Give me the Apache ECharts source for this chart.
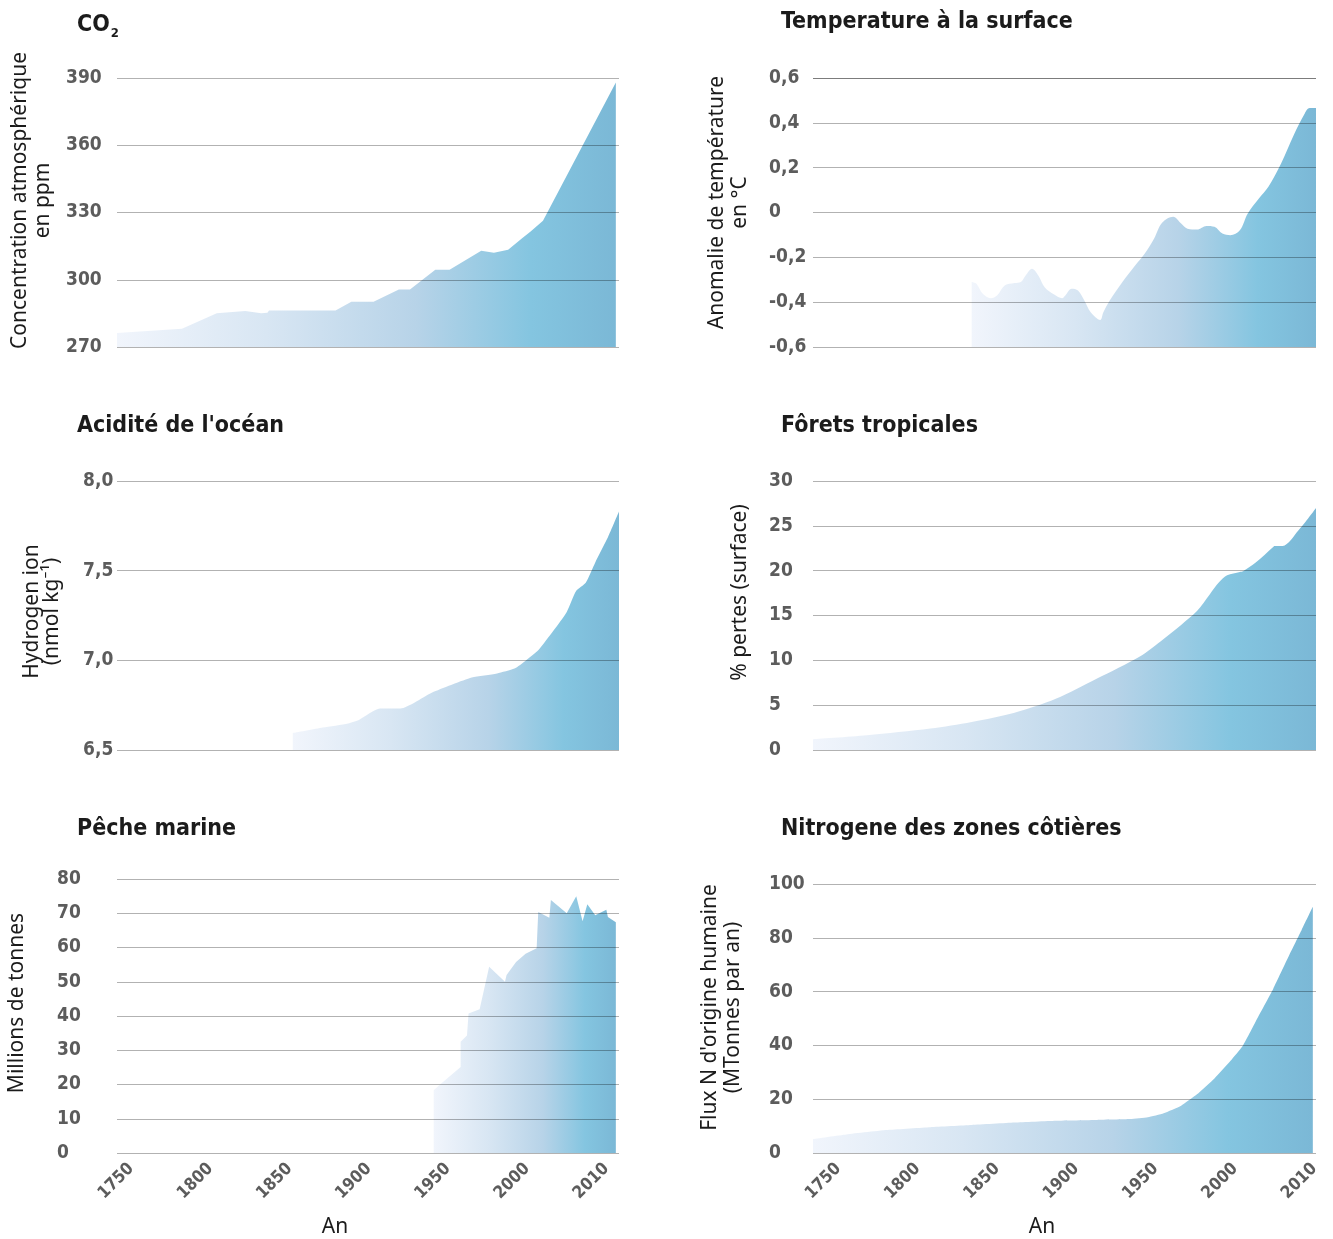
<!DOCTYPE html>
<html>
<head>
<meta charset="utf-8">
<title>Grande accélération</title>
<script src="https://cdn.jsdelivr.net/npm/echarts@6/dist/echarts.min.js"></script>
<style>
  html, body { margin: 0; padding: 0; background: #ffffff; }
  #chart { width: 1333px; height: 1239px; }
</style>
</head>
<body>
<div id="chart"></div>
<script>
// Time axis: ticks every 50 years, the last tick carries the "2010" label.
const xTickValues = [1750, 1800, 1850, 1900, 1950, 2000, 2050];
const xTickLabels = ['1750', '1800', '1850', '1900', '1950', '2000', '2010'];

// CO2 (ppm)
const co2Years  = [1741, 1782, 1804, 1822, 1832, 1836, 1837, 1879, 1889, 1903, 1919, 1926, 1942, 1951, 1971, 1979, 1988, 1997, 2002, 2010, 2056];
const co2Values = [276.2, 278.1, 285.1, 286.1, 285.1, 285.3, 286.3, 286.3, 290.2, 290.2, 295.7, 295.7, 304.5, 304.5, 312.9, 312.1, 313.4, 318.6, 321.4, 326.3, 388];
const co2Ticks  = [270, 300, 330, 360, 390];

// Surface temperature anomaly (°C)
const tempYears  = [1834, 1837, 1841, 1846, 1850, 1855, 1861, 1865, 1868, 1872, 1876, 1880, 1886, 1891, 1893, 1897, 1901, 1905, 1909, 1915, 1917, 1921, 1929, 1937, 1943, 1949, 1954, 1961, 1966, 1970, 1976, 1982, 1987, 1992, 1997, 2003, 2008, 2015, 2021, 2029, 2037, 2044, 2047, 2051];
const tempValues = [-0.31, -0.318, -0.363, -0.382, -0.37, -0.325, -0.315, -0.31, -0.281, -0.251, -0.281, -0.333, -0.366, -0.382, -0.37, -0.34, -0.348, -0.393, -0.445, -0.479, -0.445, -0.393, -0.31, -0.236, -0.184, -0.116, -0.046, -0.019, -0.049, -0.072, -0.076, -0.06, -0.064, -0.094, -0.101, -0.079, -0.004, 0.063, 0.115, 0.219, 0.346, 0.443, 0.466, 0.466];
const tempTicks  = [-0.6, -0.4, -0.2, 0, 0.2, 0.4, 0.6];

// Ocean acidity: hydrogen ion (nmol kg-1)
const acidYears  = [1852, 1871, 1887, 1894, 1907, 1920, 1940, 1965, 1981, 1992, 1999, 2007, 2017, 2025, 2031, 2037, 2043, 2051, 2058];
const acidValues = [6.594, 6.625, 6.648, 6.669, 6.731, 6.731, 6.82, 6.904, 6.927, 6.954, 6.998, 7.056, 7.17, 7.27, 7.388, 7.433, 7.546, 7.686, 7.83];
const acidTicks  = [6.5, 7.0, 7.5, 8.0];

// Tropical forest loss (% of area)
const forestYears  = [1734, 1768, 1808, 1834, 1861, 1887, 1913, 1940, 1953, 1966, 1976, 1984, 1990, 1995, 2003, 2005, 2013, 2024, 2025, 2030, 2040, 2051];
const forestValues = [1.21, 1.65, 2.39, 3.12, 4.15, 5.71, 7.97, 10.43, 12.11, 13.95, 15.49, 17.35, 18.73, 19.48, 19.85, 19.93, 20.9, 22.65, 22.76, 22.76, 24.5, 27.0];
const forestTicks  = [0, 5, 10, 15, 20, 25, 30];

// Marine fish capture (million tonnes)
const fishYears  = [1941, 1945, 1958, 1958, 1962, 1963, 1970, 1976, 1986, 1987, 1993, 1999, 2006, 2007, 2014, 2015, 2025, 2031, 2035, 2038, 2043, 2050, 2051, 2056];
const fishValues = [18.3, 20, 25.1, 32.5, 34.3, 40.7, 42.0, 54.4, 50, 52, 55.8, 58.2, 59.8, 70.4, 68.7, 73.9, 70, 75.0, 67.7, 72.6, 69.4, 71.0, 68.9, 67.4];
const fishTicks  = [0, 10, 20, 30, 40, 50, 60, 70, 80];

// Coastal nitrogen flux of human origin (Mt per year)
const nitroYears  = [1734, 1755, 1782, 1808, 1834, 1861, 1887, 1913, 1934, 1945, 1955, 1966, 1976, 1987, 1997, 2005, 2013, 2024, 2034, 2042, 2049];
const nitroValues = [5.2, 6.9, 8.6, 9.6, 10.4, 11.3, 12.0, 12.3, 12.6, 13.3, 14.8, 17.6, 21.8, 27.7, 34.2, 40, 48.9, 61.0, 73.4, 83.0, 91.5];
const nitroTicks  = [0, 20, 40, 60, 80, 100];

const FONT_COND = "'DejaVu Sans Condensed', 'Liberation Sans Narrow', sans-serif";
const FONT_TEXT = "'Noto Sans', 'Open Sans', sans-serif";

const comma = v => String(Math.round(v * 10) / 10).replace('.', ',');
const oneDecimal = v => v.toFixed(1).replace('.', ',');

const areaFill = {
  type: 'linear', x: 0, y: 0, x2: 1, y2: 0,
  colorStops: [
    { offset: 0.00, color: '#f1f5fc' },
    { offset: 0.30, color: '#d8e6f3' },
    { offset: 0.60, color: '#b7d3e8' },
    { offset: 0.83, color: '#84c5e0' },
    { offset: 1.00, color: '#7bb8d6' }
  ]
};

// column geometry and x range of each column
const cols = [
  { left: 117, width: 502, xMin: 1741, xMax: 2058 },
  { left: 813, width: 503, xMin: 1734, xMax: 2051 }
];

const panels = [
  { title: '{a|CO}{b|2}', col: 0, top: 78,  height: 269, years: co2Years,    values: co2Values,    ticks: co2Ticks,    fmt: v => String(v), labelMargin: 51,
    name: 'Concentration atmosphérique\nen ppm', nameGap: 62, nameShift: 24, lineHeight: 23, smooth: false, titleTop: 6 },
  { title: 'Temperature à la surface', col: 1, top: 78, height: 269, years: tempYears, values: tempValues, ticks: tempTicks, fmt: comma, labelMargin: 44,
    name: 'Anomalie de température\nen °C', nameGap: 61, nameShift: 20, lineHeight: 23, smooth: 0.35, titleTop: 6 },
  { title: "Acidité de l'océan", col: 0, top: 481, height: 269, years: acidYears, values: acidValues, ticks: acidTicks, fmt: oneDecimal, labelMargin: 34,
    name: 'Hydrogen ion\n(nmol kg⁻¹)', nameGap: 55, nameShift: 8, lineHeight: 20, smooth: 0.2, titleTop: 410 },
  { title: 'Fôrets tropicales', col: 1, top: 481, height: 269, years: forestYears, values: forestValues, ticks: forestTicks, fmt: v => String(v), labelMargin: 44,
    name: '% pertes (surface)', nameGap: 61, nameShift: 46, lineHeight: 23, smooth: 0.3, titleTop: 410 },
  { title: 'Pêche marine', col: 0, top: 879, height: 274, years: fishYears, values: fishValues, ticks: fishTicks, fmt: v => String(v), labelMargin: 60,
    name: 'Millions de tonnes', nameGap: 88, nameShift: 26, lineHeight: 23, smooth: false, titleTop: 813, bottomAxis: true },
  { title: 'Nitrogene des zones côtières', col: 1, top: 884, height: 269, years: nitroYears, values: nitroValues, ticks: nitroTicks, fmt: v => String(v), labelMargin: 44,
    name: "Flux N d'origine humaine\n(MTonnes par an)", nameGap: 68, nameShift: 22, lineHeight: 23, smooth: 0.15, titleTop: 813, bottomAxis: true }
];

const grid = [], xAxis = [], yAxis = [], series = [], title = [];

panels.forEach((p, i) => {
  const c = cols[p.col];
  grid.push({ left: c.left, top: p.top, width: c.width, height: p.height, containLabel: false });

  title.push({
    text: p.title,
    left: p.col === 0 ? 72 : 776,
    top: p.titleTop,
    textStyle: {
      fontFamily: FONT_COND, fontWeight: 'bold', fontSize: 23, color: '#1b1b1b',
      rich: {
        a: { fontFamily: FONT_COND, fontWeight: 'bold', fontSize: 23, color: '#1b1b1b' },
        b: { fontFamily: FONT_COND, fontWeight: 'bold', fontSize: 13, color: '#1b1b1b', padding: [16, 0, 0, 1] }
      }
    }
  });

  xAxis.push({
    type: 'value', gridIndex: i, min: c.xMin, max: c.xMax,
    axisLine: { show: false }, axisTick: { show: false }, splitLine: { show: false },
    axisLabel: p.bottomAxis ? {
      show: true, customValues: xTickValues, rotate: 45, margin: 13,
      formatter: v => xTickLabels[xTickValues.indexOf(v)],
      fontFamily: FONT_COND, fontWeight: 'bold', fontSize: 17, color: '#5c5c5c'
    } : { show: false },
    name: p.bottomAxis ? 'An' : '',
    nameLocation: 'middle', nameGap: 64,
    nameTextStyle: {
      fontFamily: FONT_TEXT, fontSize: 21, color: '#1b1b1b',
      padding: [0, p.col === 0 ? 66 : 45, 0, 0]
    }
  });

  const tk = p.ticks;
  yAxis.push({
    type: 'value', gridIndex: i, z: 3,
    min: tk[0], max: tk[tk.length - 1], interval: tk[1] - tk[0],
    axisLine: { show: false }, axisTick: { show: false },
    splitLine: { show: true, lineStyle: { color: 'rgba(0,0,0,0.3)', width: 1 } },
    axisLabel: {
      align: 'left', margin: p.labelMargin, formatter: p.fmt,
      fontFamily: FONT_COND, fontWeight: 'bold', fontSize: 19, color: '#5c5c5c'
    },
    name: p.name, nameLocation: 'middle', nameRotate: 90, nameGap: p.nameGap,
    nameTextStyle: {
      fontFamily: FONT_TEXT, fontSize: 21, color: '#1b1b1b', lineHeight: p.lineHeight,
      align: 'center', padding: [0, 0, 0, p.nameShift]
    }
  });

  series.push({
    type: 'line', xAxisIndex: i, yAxisIndex: i,
    data: p.years.map((y, k) => [y, p.values[k]]),
    symbol: 'none', smooth: p.smooth,
    lineStyle: { width: 0 },
    areaStyle: { origin: 'start', color: areaFill, opacity: 1 },
    z: 2
  });
});

const chart = echarts.init(document.getElementById('chart'), null, { renderer: 'canvas' });
chart.setOption({
  animation: false,
  backgroundColor: '#ffffff',
  title, grid, xAxis, yAxis, series
});
</script>
</body>
</html>
